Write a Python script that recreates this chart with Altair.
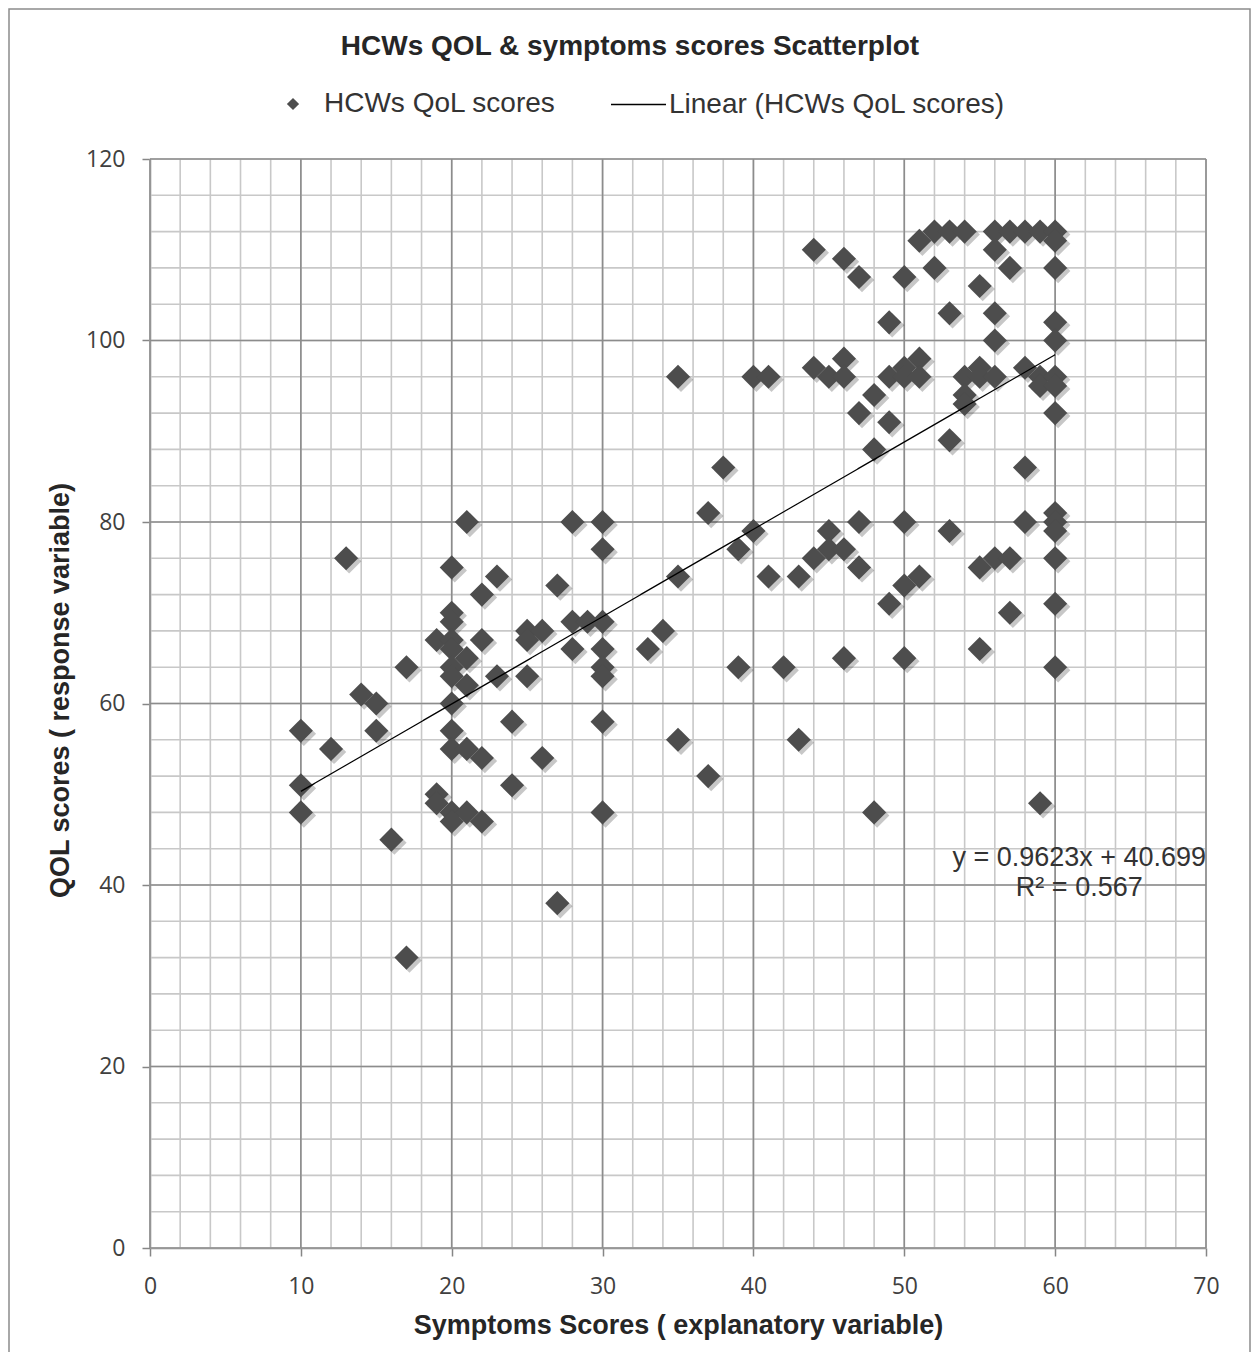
import altair as alt
import pandas as pd

# ---------------- data ----------------
symptom_levels = [10, 12, 13, 14, 15, 16, 17, 19, 20, 21, 22, 23, 24, 25, 26, 27, 28, 29, 30,
                  33, 34, 35, 37, 38, 39, 40, 41, 42, 43, 44, 45, 46, 47, 48, 49, 50,
                  51, 52, 53, 54, 55, 56, 57, 58, 59, 60]
qol_by_level = [
    [57, 51, 48],                                  # 10
    [55],                                          # 12
    [76],                                          # 13
    [61],                                          # 14
    [60, 57],                                      # 15
    [45],                                          # 16
    [64, 32],                                      # 17
    [67, 50, 49],                                  # 19
    [75, 70, 69, 67, 66, 64, 63, 60, 57, 55, 48, 47],  # 20
    [80, 65, 62, 55, 48],                          # 21
    [72, 67, 54, 47],                              # 22
    [74, 63],                                      # 23
    [58, 51],                                      # 24
    [68, 67, 63],                                  # 25
    [68, 54],                                      # 26
    [73, 38],                                      # 27
    [80, 69, 66],                                  # 28
    [69],                                          # 29
    [80, 77, 69, 66, 64, 63, 58, 48],              # 30
    [66],                                          # 33
    [68],                                          # 34
    [96, 74, 56],                                  # 35
    [81, 52],                                      # 37
    [86],                                          # 38
    [77, 64],                                      # 39
    [96, 79],                                      # 40
    [96, 74],                                      # 41
    [64],                                          # 42
    [74, 56],                                      # 43
    [110, 97, 76],                                 # 44
    [96, 79, 77],                                  # 45
    [109, 98, 96, 77, 65],                         # 46
    [107, 92, 80, 75],                             # 47
    [94, 88, 48],                                  # 48
    [102, 96, 91, 71],                             # 49
    [107, 97, 96, 80, 73, 65],                     # 50
    [111, 98, 96, 74],                             # 51
    [112, 108],                                    # 52
    [112, 103, 89, 79],                            # 53
    [112, 96, 94, 93],                             # 54
    [106, 97, 96, 75, 66],                         # 55
    [112, 110, 103, 100, 96, 76],                  # 56
    [112, 108, 76, 70],                            # 57
    [112, 97, 86, 80],                             # 58
    [112, 96, 95, 49],                             # 59
    [112, 111, 108, 102, 100, 96, 95, 92, 81, 80, 79, 76, 71, 64],  # 60
]

chart_title = "HCWs  QOL & symptoms  scores  Scatterplot"
series_name = "HCWs QoL scores"
trend_name = "Linear (HCWs QoL scores)"
trend_slope = 0.9623
trend_intercept = 40.699
trend_x = [10, 60]
equation_lines = ["y = 0.9623x + 40.699", "R\u00b2 = 0.567"]
equation_pos = {"ex": [61.6], "ey": [43.0]}

x_major = list(range(0, 71, 10))
x_minor = list(range(0, 71, 2))
y_major = list(range(0, 121, 20))
y_minor = list(range(0, 121, 4))

# ---------------- build tables ----------------
sx, sy = [], []
for lvl, vals in zip(symptom_levels, qol_by_level):
    for v in vals:
        sx.append(lvl)
        sy.append(v)
df = pd.DataFrame({"symptoms": sx, "qol": sy, "series": series_name})

xscale = alt.Scale(domain=[0, 70], nice=False, zero=False)
yscale = alt.Scale(domain=[0, 120], nice=False, zero=False)

AX = dict(domainColor="#868686", domainWidth=1.5, tickColor="#868686", tickWidth=1.5,
          tickSize=8, grid=False, labelFont="Open Sans", labelFontSize=23,
          labelColor="#404040", labelFlush=False, titleFont="Liberation Sans", titleFontSize=27,
          titleFontWeight="bold", titleColor="#262626")
xaxis = alt.Axis(values=x_major, labelPadding=19, titlePadding=14,
                 title="Symptoms  Scores ( explanatory variable)", **AX)
yaxis = alt.Axis(values=y_major, labelPadding=17, titlePadding=11, titleY=531,
                 title="QOL scores ( response variable)", **AX)

minor_v = alt.Chart(pd.DataFrame({"gx": x_minor})).mark_rule(color="#c8c8c8", strokeWidth=1.6).encode(
    x=alt.X("gx:Q", scale=xscale, axis=xaxis))
minor_h = alt.Chart(pd.DataFrame({"gy": y_minor})).mark_rule(color="#c8c8c8", strokeWidth=1.6).encode(
    y=alt.Y("gy:Q", scale=yscale, axis=yaxis))
major_v = alt.Chart(pd.DataFrame({"gx": x_major})).mark_rule(color="#8c8c8c", strokeWidth=1.6).encode(
    x=alt.X("gx:Q", scale=xscale, axis=xaxis))
major_h = alt.Chart(pd.DataFrame({"gy": y_major})).mark_rule(color="#8c8c8c", strokeWidth=1.6).encode(
    y=alt.Y("gy:Q", scale=yscale, axis=yaxis))

shadow = alt.Chart(df).mark_point(shape="diamond", filled=True, size=600, color="#000000",
                                  opacity=0.22, xOffset=3, yOffset=3).encode(
    x=alt.X("symptoms:Q", scale=xscale, axis=xaxis),
    y=alt.Y("qol:Q", scale=yscale, axis=yaxis))

points = alt.Chart(df).mark_point(shape="diamond", filled=True, size=580, opacity=1).encode(
    x=alt.X("symptoms:Q", scale=xscale, axis=xaxis),
    y=alt.Y("qol:Q", scale=yscale, axis=yaxis),
    color=alt.Color("series:N",
                    scale=alt.Scale(domain=[series_name], range=["#4d4d4d"]),
                    legend=alt.Legend(orient="none", legendX=129, legendY=-69, title=None,
                                      symbolType="diamond", symbolSize=150, padding=0,
                                      labelFont="Liberation Sans", labelFontSize=28,
                                      labelColor="#333333", labelOffset=17, labelLimit=0)),
)

trend = alt.Chart(pd.DataFrame({"tx": trend_x})).transform_calculate(
    ty=f"{trend_slope} * datum.tx + {trend_intercept}",
    trend=f"'{trend_name}'",
).mark_line(color="#000000", strokeWidth=1.3).encode(
    x=alt.X("tx:Q", scale=xscale, axis=xaxis),
    y=alt.Y("ty:Q", scale=yscale, axis=yaxis),
    strokeDash=alt.StrokeDash("trend:N",
                              scale=alt.Scale(domain=[trend_name], range=[[1, 0]]),
                              legend=alt.Legend(orient="none", legendX=460, legendY=-83, title=None,
                                                symbolType="stroke", symbolSize=3025,
                                                symbolStrokeColor="#000000", symbolStrokeWidth=1.5,
                                                padding=0, labelFont="Liberation Sans",
                                                labelFontSize=28, labelColor="#333333",
                                                labelOffset=2, labelLimit=0)),
)

equation = alt.Chart(pd.DataFrame(equation_pos)).mark_text(
    text=equation_lines, align="center", baseline="middle", font="Liberation Sans",
    fontSize=27, lineHeight=30, color="#333333").encode(
    x=alt.X("ex:Q", scale=xscale, axis=xaxis),
    y=alt.Y("ey:Q", scale=yscale, axis=yaxis))

title_text = alt.Chart(pd.DataFrame({"t": [chart_title]})).mark_text(
    align="center", baseline="middle", font="Liberation Sans", fontSize=28,
    fontWeight="bold", color="#262626").encode(
    text="t:N", x=alt.value(480), y=alt.value(-112))

frame = alt.Chart(pd.DataFrame({"k": [0]})).mark_rect(
    fill=None, stroke="#8c8c8c", strokeWidth=1.5).encode(
    x=alt.value(-141), x2=alt.value(1100), y=alt.value(-150), y2=alt.value(1215))

chart = alt.layer(minor_v, minor_h, major_v, major_h, shadow, points, trend, equation,
                  title_text, frame).properties(
    width=1056, height=1089,
    autosize=alt.AutoSizeParams(type="none"),
    padding={"left": 142, "top": 151, "right": 45, "bottom": 104},
    background="white",
).resolve_legend(color="independent", strokeDash="independent").configure_view(strokeWidth=0)

chart.save("out.html", embed_options={"renderer": "svg", "actions": False})
